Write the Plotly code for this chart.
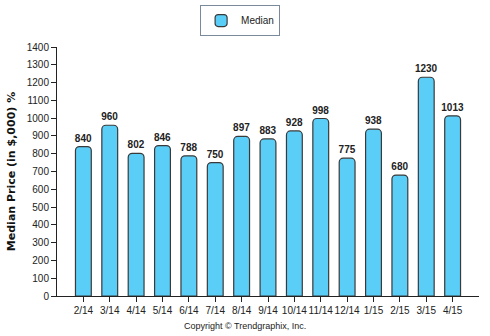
import plotly.graph_objects as go

months = ["2/14", "3/14", "4/14", "5/14", "6/14", "7/14", "8/14", "9/14",
          "10/14", "11/14", "12/14", "1/15", "2/15", "3/15", "4/15"]
median_price = [840, 960, 802, 846, 788, 750, 897, 883, 928, 998, 775, 938, 680, 1230, 1013]

x_pos = list(range(len(months)))

fig = go.Figure()
fig.add_trace(go.Bar(
    x=x_pos,
    y=median_price,
    name="Median",
    width=0.6,
    marker=dict(color="#5BCEF8", line=dict(color="#3a3a3a", width=1.2), cornerradius=4),
    text=[str(v) for v in median_price],
    textposition="outside",
    constraintext="none",
    textfont=dict(family="Liberation Sans, Arial", size=10, color="#222222", weight="bold"),
    cliponaxis=False,
    showlegend=True,
))

fig.update_layout(
    width=490, height=336,
    margin=dict(l=57, r=11, t=47, b=40, autoexpand=False),
    paper_bgcolor="white", plot_bgcolor="white",
    font=dict(family="Liberation Sans, Arial", size=10, color="#222222"),
    showlegend=True,
    legend=dict(
        orientation="h", x=0.49, y=0.985, xref="container", yref="container",
        xanchor="center", yanchor="top",
        bordercolor="#7a8a9a", borderwidth=1, bgcolor="white",
        font=dict(size=10, color="#222222"),
        itemwidth=30,
    ),
)

fig.update_xaxes(
    range=[-1, len(months)],
    tickmode="array", tickvals=x_pos, ticktext=months,
    tickangle=0,
    showline=True, linecolor="#222222", linewidth=1,
    ticks="outside", ticklen=5, tickcolor="#222222",
    showgrid=False, zeroline=False,
    tickfont=dict(size=10, color="#222222"),
)
fig.update_yaxes(
    range=[0, 1400], dtick=100,
    showline=True, linecolor="#222222", linewidth=1,
    ticks="outside", ticklen=5, tickcolor="#222222",
    showgrid=False, zeroline=False,
    tickfont=dict(size=10, color="#222222"),
    title=dict(text="Median Price (in $,000) %", standoff=8,
               font=dict(size=11, color="#111111", weight="bold",
                         family="DejaVu Sans, Verdana")),
)

fig.add_annotation(
    text="Copyright \u00a9 Trendgraphix, Inc.",
    xref="paper", yref="paper", x=0.445, y=-0.12,
    xanchor="center", yanchor="middle", showarrow=False,
    font=dict(size=9, color="#222222"),
)

fig.write_html("out.html")
